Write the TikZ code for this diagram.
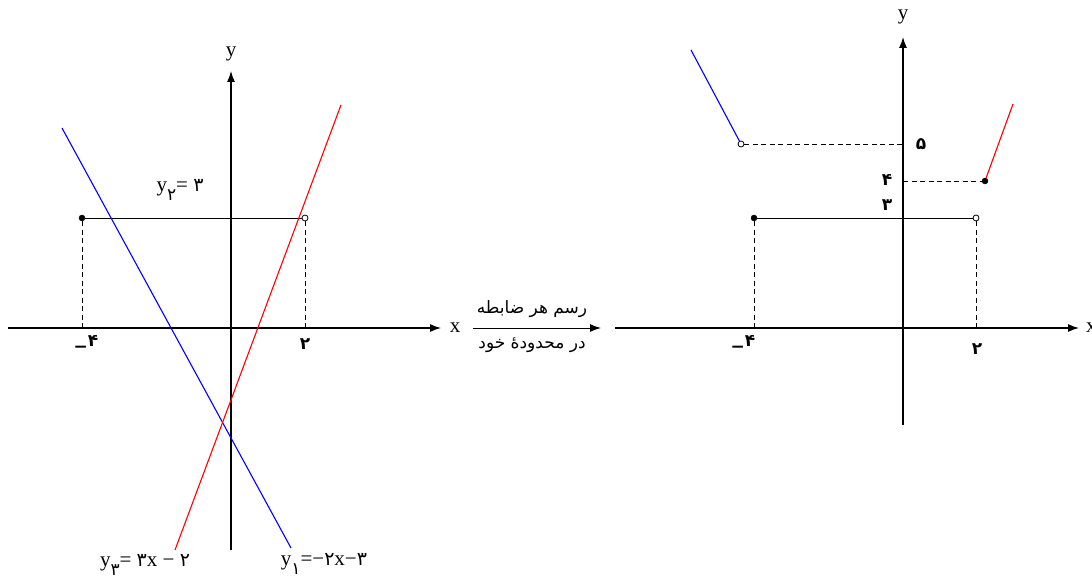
\documentclass[tikz,border=0pt]{standalone}
\usepackage{fontspec}
\setmainfont{Liberation Serif}
\newfontfamily\fa[Script=Arabic]{DejaVu Sans}
\newfontfamily\fab[Script=Arabic]{DejaVu Sans Bold}
\TeXXeTstate=1
\usetikzlibrary{arrows.meta}
\tikzset{
  axis/.style={line width=1.2pt,-{Latex[length=11pt,width=8pt]}},
  seg/.style={line width=0.9pt},
  dsh/.style={line width=0.9pt,dash pattern=on 5pt off 3.5pt},
  blu/.style={line width=1.1pt,blue},
  rd/.style={line width=1.1pt,red},
  lbl/.style={font=\fontsize{21}{24}\selectfont,inner sep=0pt},
  fdig/.style={font=\fab\fontsize{17}{20}\selectfont,inner sep=0pt},
  fill dot/.style={circle,fill=black,draw=black,inner sep=0pt,minimum size=6pt},
  open dot/.style={circle,fill=white,draw=black,line width=0.8pt,inner sep=0pt,minimum size=6pt},
}
\newcommand{\mn}{\raisebox{-0.32em}{−}}
\newcommand{\sbd}[1]{\raisebox{-0.45em}{\fa\fontsize{17}{18}\selectfont #1}}
\newcommand{\dg}[1]{{\fa\fontsize{19}{22}\selectfont #1}}
\begin{document}
\begin{tikzpicture}[x=1pt,y=-1pt]
\useasboundingbox (0,0) rectangle (1092,580);
% ---------- left graph ----------
\coordinate (lxs) at (8,328); \coordinate (lxe) at (441,328);
\coordinate (lys) at (231,550); \coordinate (lye) at (231,71);
\draw[axis] (lxs) -- (lxe);
\draw[axis] (lys) -- (lye);
\node[lbl] (lx) at (455,328) {x};
\node[lbl] (ly) at (231,54) {y};
\coordinate (lt1) at (82,328); \coordinate (lt1b) at (82,323);
\coordinate (lt2) at (305,328); \coordinate (lt2b) at (305,323);
\draw[seg] (lt1) -- (lt1b); \draw[seg] (lt2) -- (lt2b);
\node[fdig] (lm4) at (86,344) {\mn۴};
\node[fdig] (l2) at (305,344) {۲};
% horizontal piece
\node[fill dot] (la) at (82,218) {};
\node[open dot] (lb) at (305,218) {};
\draw[seg] (la) -- (lb);
\draw[dsh] (la) -- (lt1);
\draw[dsh] (lb) -- (lt2);
\node[lbl] (ly2) at (180,190) {y\sbd{۲}= \dg{۳}};
% blue and red lines
\coordinate (b1) at (62,128); \coordinate (b2) at (291,548);
\coordinate (r1) at (175,550); \coordinate (r2) at (341,105);
\draw[blu] (b1) -- (b2);
\draw[rd] (r1) -- (r2);
\node[lbl] (ly3) at (145,565) {y\sbd{۳}= \dg{۳}x − \dg{۲}};
\node[lbl] (ly1) at (324,564) {y\sbd{۱}=−\dg{۲}x−\dg{۳}};
% ---------- middle arrow ----------
\coordinate (ma) at (473,328); \coordinate (mb) at (601,328);
\draw[axis,line width=1pt] (ma) -- (mb);
\node[font=\fa\fontsize{17}{20}\selectfont,inner sep=0pt] (mt) at (532,309) {\beginR رسم هر ضابطه\endR};
\node[font=\fa\fontsize{17}{20}\selectfont,inner sep=0pt] (mbt) at (532,345) {\beginR در محدودهٔ خود\endR};
% ---------- right graph ----------
\coordinate (rxs) at (615,328); \coordinate (rxe) at (1079,328);
\coordinate (rys) at (903,425); \coordinate (rye) at (903,37);
\draw[axis] (rxs) -- (rxe);
\draw[axis] (rys) -- (rye);
\node[lbl,anchor=west] (rx) at (1086,328) {x};
\node[lbl] (ry) at (903,17) {y};
\coordinate (rt1) at (754,328); \coordinate (rt2) at (976,328);
\node[fdig] (rm4) at (743,344) {\mn۴};
\node[fdig] (r2l) at (977,349) {۲};
\node[fill dot] (ra) at (754,218) {};
\node[open dot] (rb) at (976,218) {};
\draw[seg] (ra) -- (rb);
\draw[dsh] (ra) -- (rt1);
\draw[dsh] (rb) -- (rt2);
% blue piece
\coordinate (rbl1) at (691,50);
\node[open dot] (rbl2) at (741,144) {};
\draw[blu] (rbl1) -- (rbl2);
\coordinate (ry5) at (903,144);
\draw[dsh] (rbl2) -- (ry5);
\node[fdig] (r5) at (921,144) {۵};
% red piece
\node[fill dot] (rr1) at (985,181) {};
\coordinate (rr2) at (1013,104);
\draw[rd] (rr1) -- (rr2);
\coordinate (ry4) at (903,181);
\draw[dsh] (ry4) -- (rr1);
\node[fdig] (r4) at (887,180) {۴};
\node[fdig] (r3) at (887,205) {۳};
\end{tikzpicture}
\end{document}
